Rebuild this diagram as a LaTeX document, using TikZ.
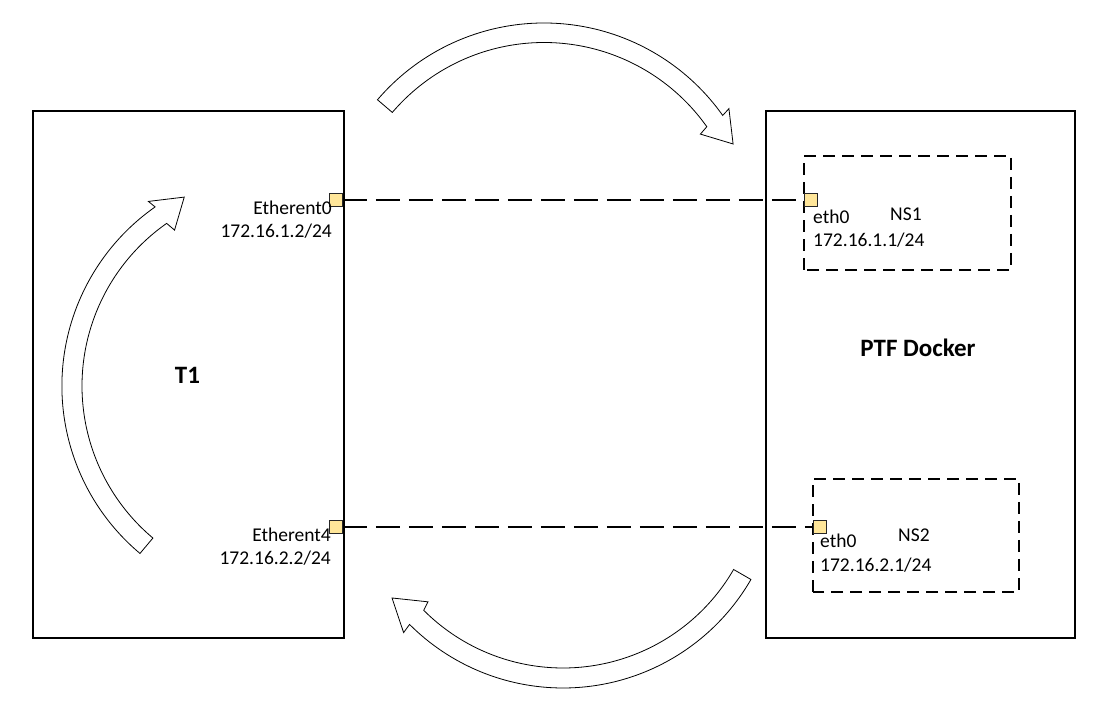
\documentclass[tikz,border=0pt]{standalone}
\usepackage{fontspec}
\setmainfont{Carlito}
\begin{document}
\begin{tikzpicture}[x=1pt,y=1pt,
  box/.style={draw=black, line width=1.2pt},
  nsbox/.style={draw=black, line width=1.8pt, dash pattern=on 12pt off 7pt},
  port/.style={draw=black!85, fill=portfill, line width=0.8pt, minimum size=13pt, inner sep=0pt},
  link/.style={draw=black, line width=1.3pt, dash pattern=on 24pt off 9pt},
  lbl/.style={font=\fontsize{19.5}{23}\selectfont, inner sep=0pt},
  title/.style={font=\fontsize{25}{29}\selectfont\bfseries, inner sep=0pt},
  blockarrow/.style={draw=black, line width=0.8pt, fill=white, line join=miter}]
\definecolor{portfill}{HTML}{FFE699}
\useasboundingbox (0,0) rectangle (1104,711);
% main boxes
\draw[box] (33,73) rectangle (344,600);
\draw[box] (766,73) rectangle (1075,600);
% namespace boxes
\draw[nsbox] (804,441) rectangle (1011,555);
\draw[nsbox] (813,119) rectangle (1019,232);
% ports
\node[port] (p0) at (336,511) {};
\node[port] (p4) at (336,184) {};
\node[port] (e1) at (811,511) {};
\node[port] (e2) at (820,184) {};
% links
\draw[link] (p0.east) -- (e1.west);
\draw[link] (p4.east) -- (e2.west);
% labels
\node[lbl, anchor=base east] (l0) at (332,496) {Etherent0};
\node[lbl, anchor=base east] (ip0) at (332,473) {172.16.1.2/24};
\node[lbl, anchor=base east] (l4) at (331,169) {Etherent4};
\node[lbl, anchor=base east] (ip4) at (331,146) {172.16.2.2/24};
\node[lbl, anchor=base west] (n1e) at (813,487) {eth0};
\node[lbl, anchor=base west] (n1ip) at (813,464) {172.16.1.1/24};
\node[lbl, anchor=base west] (ns1) at (890,490) {NS1};
\node[lbl, anchor=base west] (n2e) at (820,163) {eth0};
\node[lbl, anchor=base west] (n2ip) at (820,139) {172.16.2.1/24};
\node[lbl, anchor=base west] (ns2) at (898,169) {NS2};
\node[title, anchor=base] (t1) at (187.5,327) {T1};
\node[title, anchor=base] (ptf) at (918,354) {PTF Docker};
% curved block arrows
\draw[blockarrow] ([shift={(544,469)}]139.5:219pt) arc[start angle=139.5, end angle=35.3, radius=219pt]
  -- ([shift={(544,469)}]35.8:228pt) -- ([shift={(544,469)}]27.4:213pt)
  -- ([shift={(544,469)}]34.6:190pt) -- ([shift={(544,469)}]35.3:199.5pt)
  arc[start angle=35.3, end angle=139.5, radius=199.5pt] -- cycle;
\draw[blockarrow] ([shift={(280.5,325)}]230:218.6pt) arc[start angle=230, end angle=125, radius=218.6pt]
  -- ([shift={(280.5,325)}]125.6:227pt) -- ([shift={(280.5,325)}]117:212pt)
  -- ([shift={(280.5,325)}]124.2:188.5pt) -- ([shift={(280.5,325)}]125:198.5pt)
  arc[start angle=125, end angle=230, radius=198.5pt] -- cycle;
\draw[blockarrow] ([shift={(563,240)}]-30:217pt) arc[start angle=-30, end angle=-135, radius=217pt]
  -- ([shift={(563,240)}]-134.6:227pt) -- ([shift={(563,240)}]-143.4:213pt)
  -- ([shift={(563,240)}]-135.9:188pt) -- ([shift={(563,240)}]-135:197pt)
  arc[start angle=-135, end angle=-30, radius=197pt] -- cycle;
\end{tikzpicture}
\end{document}
